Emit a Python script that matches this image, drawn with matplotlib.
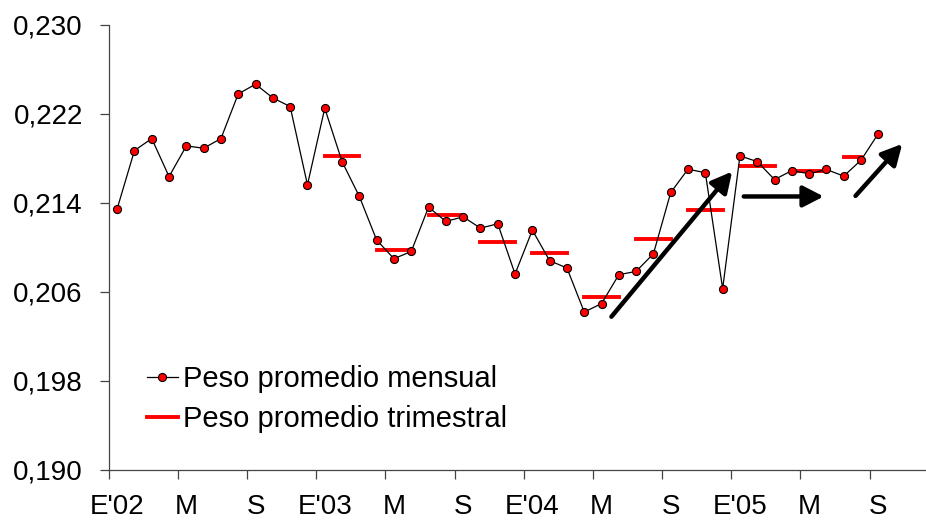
import numpy as np
import matplotlib
matplotlib.use("Agg")
import matplotlib.pyplot as plt
from matplotlib.ticker import FixedLocator, FuncFormatter
from matplotlib.lines import Line2D

plt.rcParams['font.family'] = ['Liberation Sans', 'DejaVu Sans']

# Peso promedio mensual, enero 2002 a septiembre 2005
mensual = [0.21346, 0.21870, 0.21978, 0.21636, 0.21912, 0.21891, 0.21978, 0.22380,
           0.22467, 0.22344, 0.22266, 0.21562, 0.22251, 0.21771, 0.21457, 0.21065,
           0.20897, 0.20962, 0.21361, 0.21232, 0.21274, 0.21172, 0.21211, 0.20759,
           0.21154, 0.20879, 0.20813, 0.20417, 0.20493, 0.20753, 0.20783, 0.20942,
           0.21493, 0.21703, 0.21670, 0.20627, 0.21822, 0.21771, 0.21609, 0.21690,
           0.21661, 0.21700, 0.21640, 0.21784, 0.22023]

# Peso promedio trimestral, desde el primer trimestre 2003
trimestral = [0.21825, 0.20971, 0.21292, 0.21049, 0.20948, 0.20555, 0.21074,
              0.21334, 0.21735, 0.21682, 0.21816]
trim_meses = [3, 3, 3, 3, 3, 3, 3, 3, 3, 3, 2]  # meses que cubre cada barra
trim_inicio = 12  # E'03

etiquetas_x = ["E'02", "M", "S", "E'03", "M", "S", "E'04", "M", "S", "E'05", "M", "S"]

# flechas de tendencia (mes, valor) -> (mes, valor)
flechas = [((28.57, 0.20375), (35.55, 0.21681)),
           ((36.22, 0.21457), (40.84, 0.21457)),
           ((42.68, 0.21462), (45.38, 0.21930))]

fig = plt.figure(figsize=(9.26, 5.22), dpi=100)
ax = fig.add_axes([108.5 / 926, 52.5 / 522, 830.4 / 926, 444.5 / 522])

meses = np.arange(len(mensual))
ax.plot(meses, mensual, color='black', lw=0.9, marker='o', markersize=5.8,
        markerfacecolor='#FF0000', markeredgecolor='black', markeredgewidth=0.8,
        zorder=3)

for k, (v, n) in enumerate(zip(trimestral, trim_meses)):
    x0 = trim_inicio + 3 * k
    ax.plot([x0, x0 + n - 1], [v, v], color='#FF0000', lw=2.8,
            solid_capstyle='projecting', zorder=2)

for (x0, y0), (x1, y1) in flechas:
    ax.annotate('', xy=(x1, y1), xytext=(x0, y0),
                arrowprops=dict(arrowstyle='-|>,head_length=0.62,head_width=0.32',
                                mutation_scale=20, lw=3.2, color='black',
                                shrinkA=0, shrinkB=0), zorder=4)

ax.set_xlim(-0.5, 47.5)
ax.set_ylim(0.190, 0.230)

ax.spines['top'].set_visible(False)
ax.spines['right'].set_visible(False)
for s in ['left', 'bottom']:
    ax.spines[s].set_color('#444444')
    ax.spines[s].set_linewidth(0.9)

ax.yaxis.set_major_locator(FixedLocator(np.arange(0.190, 0.2301, 0.008)))
ax.yaxis.set_major_formatter(FuncFormatter(lambda v, p: f"{v:.3f}".replace('.', ',')))
ax.tick_params(axis='y', direction='out', length=6.5, width=0.9, color='#444444',
               pad=12, labelsize=20)

ax.xaxis.set_major_locator(FixedLocator(np.arange(-0.5, 47, 4)))
ax.xaxis.set_major_formatter(FuncFormatter(lambda v, p: ''))
ax.set_xticks(np.arange(0, 48, 4), etiquetas_x, minor=True)
ax.tick_params(axis='x', which='major', direction='out', length=6.5, width=0.9,
               color='#444444')
ax.tick_params(axis='x', which='minor', length=0, pad=18, labelsize=20)

handles = [Line2D([], [], color='black', lw=0.9, marker='o', markersize=5.8,
                  markerfacecolor='#FF0000', markeredgecolor='black',
                  markeredgewidth=0.8),
           Line2D([], [], color='#FF0000', lw=2.8)]
fig.legend(handles, ['Peso promedio mensual', 'Peso promedio trimestral'],
           loc='upper left', bbox_to_anchor=(147 / 926, 1 - 365 / 522),
           frameon=False, fontsize=21, handlelength=1.05, handletextpad=0.2,
           labelspacing=0.42, numpoints=1, borderpad=0, borderaxespad=0)

fig.savefig('out.png', dpi=100)
